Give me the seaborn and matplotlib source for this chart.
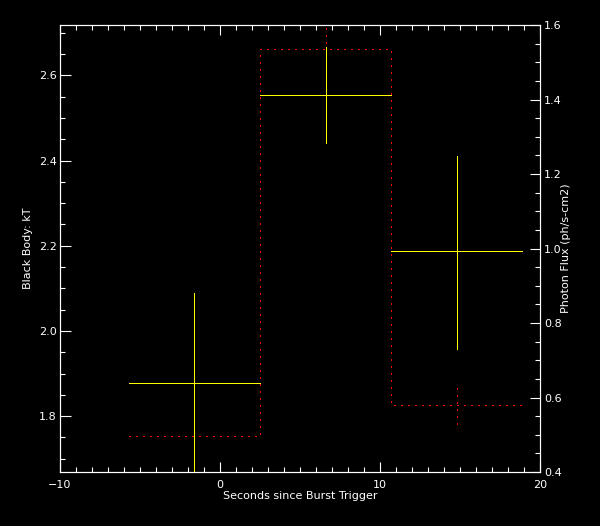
import numpy as np
import pandas as pd
import matplotlib
matplotlib.use("Agg")
import matplotlib.pyplot as plt
import seaborn as sns
from matplotlib.ticker import MultipleLocator

# Time bins (seconds since burst trigger)
bin_lo = [-5.7, 2.5, 10.7]
bin_hi = [2.5, 10.7, 18.9]
bin_mid = [-1.6, 6.6, 14.8]

# Black body kT with errors
kt = [1.877, 2.553, 2.187]
kt_lo = [1.60, 2.442, 1.958]
kt_hi = [2.088, 2.667, 2.411]

# Photon flux (ph/s-cm2) with errors
flux = [0.496, 1.535, 0.579]
flux_lo = [0.44, 1.42, 0.528]
flux_hi = [0.55, 1.65, 0.641]

sns.set_theme(style="dark", rc={
    "figure.facecolor": "black",
    "axes.facecolor": "black",
    "axes.edgecolor": "white",
    "axes.labelcolor": "white",
    "xtick.color": "white",
    "ytick.color": "white",
    "text.color": "white",
    "axes.grid": False,
    "axes.linewidth": 0.8,
})
plt.rcParams["font.family"] = ["DejaVu Sans"]

fig, ax = plt.subplots(figsize=(6.0, 5.26), dpi=100)
fig.subplots_adjust(left=0.1, right=0.9, top=1 - 25 / 526, bottom=1 - 472 / 526)
ax2 = ax.twinx()

# Photon flux step (red dotted) on the right axis
step_df = pd.DataFrame({"t": bin_lo + [bin_hi[-1]], "f": flux + [flux[-1]]})
dots = (0, (1.5, 7.5))
sns.lineplot(data=step_df, x="t", y="f", ax=ax2, drawstyle="steps-post",
             color="#ff0000", lw=0.5, linestyle=dots, sort=True, estimator=None,
             antialiased=False)
vl = ax2.vlines(bin_mid, flux_lo, flux_hi, colors="#ff0000", lw=0.5, linestyles=dots)
vl.set_antialiased(False)

# Black body kT crosses (yellow) on the left axis
kt_arr = np.array(kt)
yerr = [kt_arr - np.array(kt_lo), np.array(kt_hi) - kt_arr]
xerr = [np.array(bin_mid) - np.array(bin_lo), np.array(bin_hi) - np.array(bin_mid)]
eb = ax.errorbar(bin_mid, kt, xerr=xerr, yerr=yerr, fmt="none",
                 ecolor="#ffff00", elinewidth=0.5, capsize=0, zorder=5)
for coll in eb[2]:
    coll.set_antialiased(False)
ax.set_zorder(ax2.get_zorder() + 1)
ax.patch.set_visible(False)

ax.set_xlim(-10, 20)
ax.set_ylim(1.669, 2.718)
ax2.set_ylim(0.4, 1.6)

ax.xaxis.set_major_locator(MultipleLocator(10))
ax.xaxis.set_minor_locator(MultipleLocator(1))
ax.yaxis.set_major_locator(MultipleLocator(0.2))
ax.yaxis.set_minor_locator(MultipleLocator(0.05))
ax2.yaxis.set_major_locator(MultipleLocator(0.2))
ax2.yaxis.set_minor_locator(MultipleLocator(0.05))
ax.yaxis.set_major_formatter(matplotlib.ticker.FormatStrFormatter("%.1f"))
ax2.yaxis.set_major_formatter(matplotlib.ticker.FormatStrFormatter("%.1f"))

ax.tick_params(axis="x", which="both", direction="in", top=True, bottom=True,
               labelsize=8, pad=5.5, width=0.8)
ax.tick_params(axis="x", which="major", length=7.2)
ax.tick_params(axis="x", which="minor", length=3.6)
ax.tick_params(axis="y", which="both", direction="in", left=True, right=False,
               labelsize=8, pad=2.5, width=0.8)
ax.tick_params(axis="y", which="major", length=7.9)
ax.tick_params(axis="y", which="minor", length=3.8)
ax2.tick_params(axis="y", which="both", direction="in", right=True, left=False,
                labelsize=8, pad=3, width=0.8)
ax2.tick_params(axis="y", which="major", length=7.2)
ax2.tick_params(axis="y", which="minor", length=3.6)
for a in (ax, ax2):
    for s in a.spines.values():
        s.set_color("white")

ax.set_xlabel("Seconds since Burst Trigger", fontsize=8)
ax.set_ylabel("Black Body: kT", fontsize=8)
ax2.set_ylabel("Photon Flux (ph/s-cm2)", fontsize=8, rotation=90)
ax.xaxis.set_label_coords(0.5, -0.042)
ax.yaxis.set_label_coords(-0.056, 0.5)
ax2.yaxis.set_label_coords(1.044, 0.5)

fig.savefig("out.png", dpi=100, facecolor="black")
